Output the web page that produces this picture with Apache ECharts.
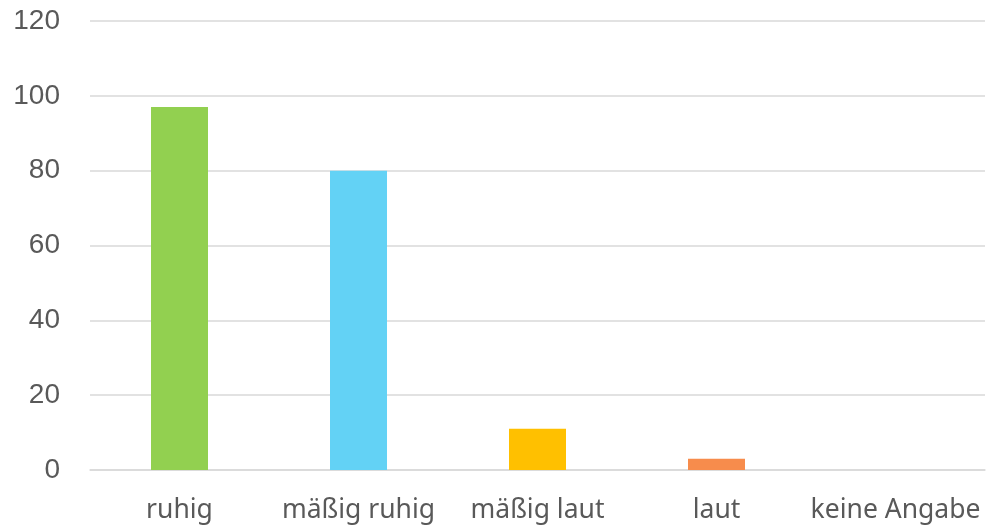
<!DOCTYPE html>
<html>
<head>
<meta charset="utf-8">
<script src="https://cdn.jsdelivr.net/npm/echarts@6/dist/echarts.min.js"></script>
<style>
  html, body { margin: 0; padding: 0; background: #fff; }
  #main { width: 986px; height: 529px; }
</style>
</head>
<body>
<div id="main"></div>
<script>
// Kategorien und Werte
var categories = ['ruhig', 'mäßig ruhig', 'mäßig laut', 'laut', 'keine Angabe']
var values = [97, 80, 11, 3, 0]
var barColors = ['#92D050', '#63D2F5', '#FFC000', '#F78C4C', '#A5A5A5']
var yTicks = [0, 20, 40, 60, 80, 100, 120]

var myChart = echarts.init(document.getElementById('main'))
myChart.setOption({
  animation: false,
  grid: { left: 90, right: 1, top: 21, bottom: 59 },
  xAxis: {
    type: 'category',
    data: categories,
    axisLine: { lineStyle: { color: '#D9D9D9', width: 1.5 } },
    axisTick: { show: false },
    axisLabel: {
      interval: 0,
      color: '#595959',
      fontFamily: 'Noto Sans',
      fontSize: 26.5,
      margin: 27
    }
  },
  yAxis: {
    type: 'value',
    min: yTicks[0],
    max: yTicks[yTicks.length - 1],
    interval: 20,
    axisLine: { show: false },
    axisTick: { show: false },
    splitLine: { lineStyle: { color: '#D9D9D9', width: 1.5 } },
    axisLabel: {
      color: '#595959',
      fontFamily: 'Liberation Sans',
      fontSize: 28,
      margin: 30
    }
  },
  series: [{
    type: 'bar',
    barWidth: 57,
    data: values.map(function (v, i) {
      return { value: v, itemStyle: { color: barColors[i] } }
    })
  }]
})
</script>
</body>
</html>
